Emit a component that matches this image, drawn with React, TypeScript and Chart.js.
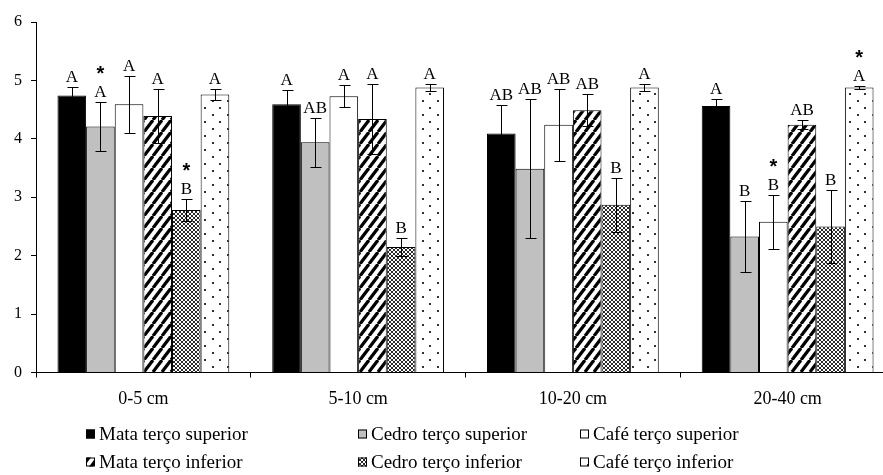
import { useEffect, useRef } from "react";
import { Chart, registerables } from "chart.js";

Chart.register(...registerables);

const categories = ["0-5 cm", "5-10 cm", "10-20 cm", "20-40 cm"];
const seriesNames = [
  "Mata terço superior",
  "Cedro terço superior",
  "Café terço superior",
  "Mata terço inferior",
  "Cedro terço inferior",
  "Café terço inferior",
];
const yTicks = [0, 1, 2, 3, 4, 5, 6];

const mataSup = [4.74, 4.59, 4.09, 4.56];
const cedroSup = [4.21, 3.94, 3.49, 2.33];
const cafeSup = [4.59, 4.73, 4.24, 2.58];
const mataInf = [4.39, 4.34, 4.49, 4.24];
const cedroInf = [2.78, 2.15, 2.87, 2.5];
const cafeInf = [4.76, 4.88, 4.88, 4.88];

const mataSupErr = [0.14, 0.25, 0.49, 0.12];
const cedroSupErr = [0.42, 0.42, 1.19, 0.61];
const cafeSupErr = [0.49, 0.19, 0.62, 0.46];
const mataInfErr = [0.46, 0.6, 0.27, 0.08];
const cedroInfErr = [0.19, 0.16, 0.46, 0.63];
const cafeInfErr = [0.09, 0.06, 0.06, 0.02];

const mataSupLetters = ["A", "A", "AB", "A"];
const cedroSupLetters = ["A", "AB", "AB", "B"];
const cafeSupLetters = ["A", "A", "AB", "B"];
const mataInfLetters = ["A", "A", "AB", "AB"];
const cedroInfLetters = ["B", "B", "B", "B"];
const cafeInfLetters = ["A", "A", "A", "A"];

const mataSupStars = [false, false, false, false];
const cedroSupStars = [true, false, false, false];
const cafeSupStars = [false, false, false, true];
const mataInfStars = [false, false, false, false];
const cedroInfStars = [true, false, false, false];
const cafeInfStars = [false, false, false, true];

const values = [mataSup, cedroSup, cafeSup, mataInf, cedroInf, cafeInf];
const errors = [mataSupErr, cedroSupErr, cafeSupErr, mataInfErr, cedroInfErr, cafeInfErr];
const letters = [mataSupLetters, cedroSupLetters, cafeSupLetters, mataInfLetters, cedroInfLetters, cafeInfLetters];
const stars = [mataSupStars, cedroSupStars, cafeSupStars, mataInfStars, cedroInfStars, cafeInfStars];

const SERIF = "'Liberation Serif', 'Times New Roman', serif";

function makeTile(w: number, h: number, draw: (c: CanvasRenderingContext2D) => void) {
  const cv = document.createElement("canvas");
  cv.width = w;
  cv.height = h;
  const c = cv.getContext("2d")!;
  draw(c);
  return cv;
}

function makePatterns(ctx: CanvasRenderingContext2D) {
  const stripes = makeTile(9, 12, (c) => {
    c.fillStyle = "#fff";
    c.fillRect(0, 0, 9, 12);
    c.strokeStyle = "#000";
    c.lineWidth = 3.2;
    for (const o of [-9, 0, 9]) {
      c.beginPath();
      c.moveTo(o, 12);
      c.lineTo(o + 9, 0);
      c.stroke();
    }
  });
  const cross = makeTile(4, 4, (c) => {
    c.fillStyle = "#fff";
    c.fillRect(0, 0, 4, 4);
    c.fillStyle = "#2a2a2a";
    for (let i = 0; i < 4; i++) {
      c.fillRect(i, i, 1, 1);
      c.fillRect(3 - i, i, 1, 1);
    }
  });
  const dots = makeTile(15, 14, (c) => {
    c.fillStyle = "#fff";
    c.fillRect(0, 0, 15, 14);
    c.fillStyle = "#333";
    c.fillRect(2, 2, 2, 2);
    c.fillRect(9, 9, 2, 2);
  });
  return {
    stripes: ctx.createPattern(stripes, "repeat")!,
    cross: ctx.createPattern(cross, "repeat")!,
    dots: ctx.createPattern(dots, "repeat")!,
  };
}

const errorLabelPlugin = {
  id: "errorLabels",
  afterDatasetsDraw(chart: any) {
    const ctx: CanvasRenderingContext2D = chart.ctx;
    const yScale = chart.scales.y;
    ctx.save();
    chart.data.datasets.forEach((ds: any, i: number) => {
      const meta = chart.getDatasetMeta(i);
      meta.data.forEach((bar: any, j: number) => {
        const v = ds.data[j];
        const e = errors[i][j];
        const yTop = Math.round(yScale.getPixelForValue(v + e)) + 0.5;
        const yBot = Math.round(yScale.getPixelForValue(v - e)) + 0.5;
        const x = Math.round(bar.x) + 0.5;
        ctx.strokeStyle = "#000";
        ctx.lineWidth = 1;
        ctx.beginPath();
        ctx.moveTo(x, yTop);
        ctx.lineTo(x, yBot);
        ctx.moveTo(x - 5, yTop);
        ctx.lineTo(x + 6, yTop);
        ctx.moveTo(x - 5, yBot);
        ctx.lineTo(x + 6, yBot);
        ctx.stroke();
        const base = yTop - 6;
        ctx.fillStyle = "#000";
        ctx.font = `17px ${SERIF}`;
        ctx.textAlign = "center";
        ctx.textBaseline = "alphabetic";
        ctx.fillText(letters[i][j], bar.x, base);
        if (stars[i][j]) {
          ctx.font = `bold 20px 'Liberation Sans', Arial, sans-serif`;
          ctx.textBaseline = "middle";
          ctx.fillText("*", bar.x, base - 22);
        }
      });
    });
    ctx.restore();
  },
};

const legendPlugin = {
  id: "gridLegend",
  afterDraw(chart: any) {
    const ctx: CanvasRenderingContext2D = chart.ctx;
    const colX = [86, 358, 580];
    const rowY = [434, 462];
    ctx.save();
    chart.data.datasets.forEach((ds: any, i: number) => {
      const col = i % 3;
      const row = Math.floor(i / 3);
      const bx = colX[col];
      const by = rowY[row] - 4.5;
      ctx.fillStyle = ds.backgroundColor;
      ctx.fillRect(bx, by, 9, 9);
      ctx.strokeStyle = "#000";
      ctx.lineWidth = 1;
      ctx.strokeRect(bx + 0.5, by + 0.5, 8, 8);
      ctx.fillStyle = "#000";
      ctx.font = `19px ${SERIF}`;
      ctx.textAlign = "left";
      ctx.textBaseline = "middle";
      ctx.fillText(ds.label, bx + 13, rowY[row] + 1);
    });
    ctx.restore();
  },
};

export default function App() {
  const ref = useRef<HTMLCanvasElement>(null);
  useEffect(() => {
    const canvas = ref.current!;
    const ctx = canvas.getContext("2d")!;
    const p = makePatterns(ctx);
    const fills: any[] = ["#000000", "#c0c0c0", "#ffffff", p.stripes, p.cross, p.dots];
    const chart = new Chart(canvas, {
      type: "bar",
      data: {
        labels: categories,
        datasets: seriesNames.map((name, i) => ({
          label: name,
          data: values[i],
          backgroundColor: fills[i],
          borderColor: "#000",
          borderWidth: 1,
          categoryPercentage: 0.8,
          barPercentage: 1.0,
        })),
      },
      options: {
        responsive: false,
        animation: false,
        layout: { padding: { top: 22, right: 5, left: 0, bottom: 0 } },
        plugins: {
          legend: { display: false },
          tooltip: { enabled: false },
        },
        scales: {
          x: {
            grid: {
              offset: true,
              drawOnChartArea: false,
              drawTicks: true,
              tickLength: 5,
              color: "#000",
            },
            border: { display: true, color: "#000", width: 1 },
            ticks: {
              color: "#000",
              font: { family: SERIF, size: 18 },
              padding: 11,
            },
            afterFit: (s: any) => {
              s.height = 102.5;
            },
          },
          y: {
            min: 0,
            max: 6,
            afterBuildTicks: (s: any) => {
              s.ticks = yTicks.map((v) => ({ value: v }));
            },
            grid: {
              drawOnChartArea: false,
              drawTicks: true,
              tickLength: 5,
              color: "#000",
            },
            border: { display: true, color: "#000", width: 1 },
            ticks: {
              color: "#000",
              font: { family: SERIF, size: 16 },
              padding: 9,
            },
            afterFit: (s: any) => {
              s.width = 36;
            },
          },
        },
      },
      plugins: [errorLabelPlugin, legendPlugin],
    });
    return () => chart.destroy();
  }, []);
  return (
    <div
      style={{
        position: "fixed",
        left: 0,
        top: 0,
        width: 883,
        height: 475,
        overflow: "hidden",
        background: "#fff",
      }}
    >
      <canvas ref={ref} width={900} height={475} style={{ display: "block" }} />
    </div>
  );
}
